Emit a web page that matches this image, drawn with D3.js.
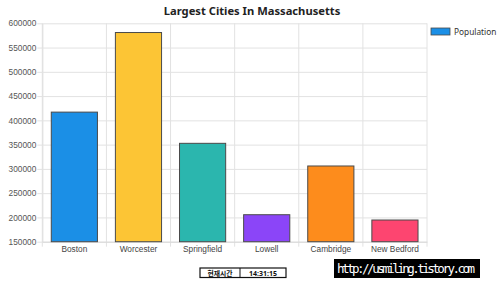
<!DOCTYPE html>
<html>
<head>
<meta charset="utf-8">
<script src="https://cdn.jsdelivr.net/npm/d3@7"></script>
<style>
  body { margin: 0; background: #fff; }
  svg { display: block; font-family: "Noto Sans", "DejaVu Sans", sans-serif; }
</style>
</head>
<body>
<svg id="chart" width="500" height="288"></svg>
<script>
'use strict';

// chart data
var cities = ['Boston', 'Worcester', 'Springfield', 'Lowell', 'Cambridge', 'New Bedford'];
var population = [417000, 581000, 352700, 205600, 306000, 194700];
var barColors = ['#1b8fe6', '#fcc535', '#2bb6ae', '#8b45f8', '#fd8c1c', '#fd4570'];
var yTicks = [150000, 200000, 250000, 300000, 350000, 400000, 450000, 500000, 550000, 600000];

var svg = d3.select('#chart');
var margin = {top: 23.3, left: 42.3, right: 73, bottom: 46.3};
var W = 500, H = 288;

var x = d3.scaleBand()
    .domain(cities)
    .range([margin.left, W - margin.right])
    .paddingInner(0.28)
    .paddingOuter(0.14);

var y = d3.scaleLinear()
    .domain([150000, 600000])
    .range([H - margin.bottom, margin.top]);

// title
svg.append('text')
    .attr('x', 252).attr('y', 15)
    .attr('text-anchor', 'middle')
    .style('font-size', '11.2px').style('font-weight', 'bold')
    .attr('fill', '#222')
    .text('Largest Cities In Massachusetts');

// horizontal grid + y ticks
svg.append('g')
    .attr('transform', 'translate(' + margin.left + ',0)')
    .call(d3.axisLeft(y).tickValues(yTicks).tickSize(-(W - margin.left - margin.right)).tickSizeOuter(0).tickPadding(6).tickFormat(d3.format('d')))
    .call(function(g) {
      g.select('.domain').attr('stroke', '#d8d8d8');
      g.selectAll('.tick line').attr('stroke', '#e2e2e2').attr('x1', -5);
      g.selectAll('.tick text').attr('fill', '#555').style('font-size', '8.3px');
    });

// vertical grid at band edges
var edges = cities.map(function(c) { return x(c) - x.step() * x.paddingInner() / 2; });
edges.push(x(cities[cities.length - 1]) + x.bandwidth() + x.step() * x.paddingInner() / 2);
svg.append('g').selectAll('line')
    .data(edges)
    .join('line')
    .attr('x1', function(d) { return d; }).attr('x2', function(d) { return d; })
    .attr('y1', margin.top).attr('y2', H - margin.bottom + 5)
    .attr('stroke', '#e2e2e2');

// x axis labels
svg.append('g')
    .attr('transform', 'translate(0,' + (H - margin.bottom) + ')')
    .call(d3.axisBottom(x).tickSize(0).tickPadding(4))
    .call(function(g) {
      g.select('.domain').attr('stroke', '#d8d8d8');
      g.selectAll('.tick text').attr('fill', '#444').style('font-size', '8.3px');
    });

// bars
svg.append('g').selectAll('rect')
    .data(population)
    .join('rect')
    .attr('x', function(d, i) { return x(cities[i]); })
    .attr('y', function(d) { return y(d); })
    .attr('width', x.bandwidth())
    .attr('height', function(d) { return y(150000) - y(d); })
    .attr('fill', function(d, i) { return barColors[i]; })
    .attr('stroke', '#4a4a4a')
    .attr('stroke-width', 1);

// legend
var legend = svg.append('g').attr('transform', 'translate(431,28)');
legend.append('rect').attr('width', 19).attr('height', 7)
    .attr('fill', barColors[0]).attr('stroke', '#4a4a4a').attr('stroke-width', 0.8);
legend.append('text').attr('x', 23).attr('y', 7)
    .style('font-size', '8.3px').attr('fill', '#333').text('Population');

// current time box
var tbox = svg.append('g').attr('transform', 'translate(200,268)');
tbox.append('rect').attr('width', 86).attr('height', 9.5)
    .attr('fill', '#fff').attr('stroke', '#111').attr('stroke-width', 1.2);
tbox.append('line').attr('x1', 40).attr('x2', 40).attr('y1', 0).attr('y2', 9.5).attr('stroke', '#111');
tbox.append('text').attr('x', 20).attr('y', 7.5).attr('text-anchor', 'middle')
    .style('font-family', '"Noto Sans CJK KR", sans-serif')
    .style('font-size', '6.8px').style('font-weight', 'bold').attr('fill', '#111').text('현재시간');
tbox.append('text').attr('x', 63).attr('y', 7.5).attr('text-anchor', 'middle')
    .style('font-size', '7px').style('font-weight', 'bold').attr('fill', '#111').text('14:31:15');

// blog url badge
var badge = svg.append('g').attr('transform', 'translate(334,259)');
badge.append('rect').attr('width', 146).attr('height', 19).attr('fill', '#000');
badge.append('text').attr('x', 3).attr('y', 14)
    .style('font-family', '"DejaVu Sans Mono", monospace')
    .style('font-size', '12.5px').attr('fill', '#fff')
    .attr('textLength', 138)
    .text('http://usmiling.tistory.com');
</script>
</body>
</html>
